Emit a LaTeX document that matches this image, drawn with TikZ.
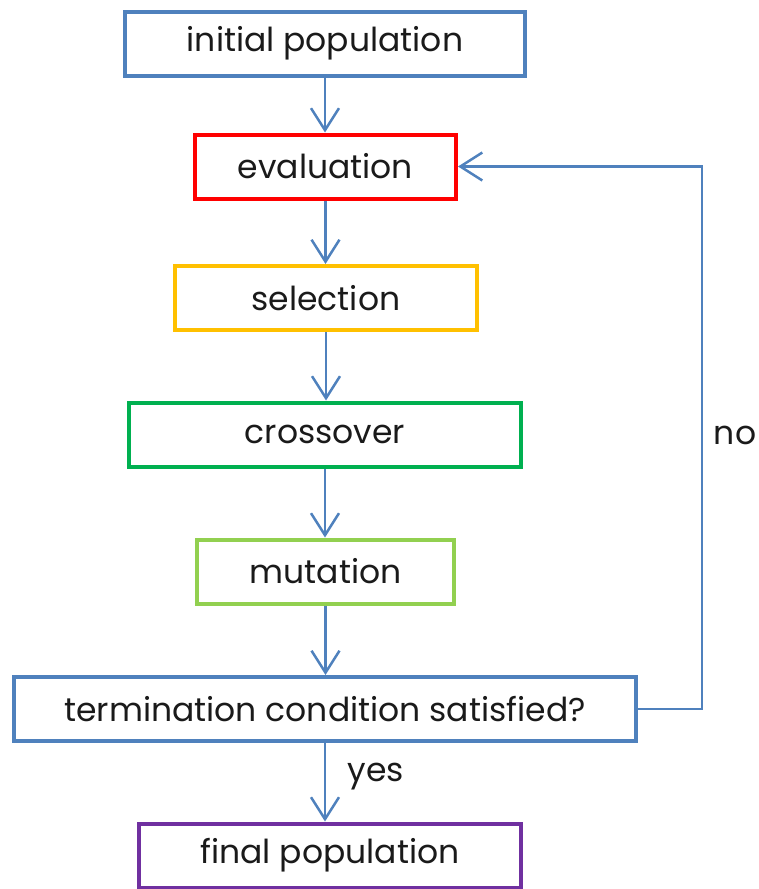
\documentclass[tikz,border=0pt]{standalone}
\usepackage{fontspec}
\setmainfont{Poppins}
\usetikzlibrary{arrows.meta}
\definecolor{oblue}{HTML}{4F81BD}
\definecolor{ored}{HTML}{FF0000}
\definecolor{oyellow}{HTML}{FFC000}
\definecolor{ogreen}{HTML}{00B050}
\definecolor{olgreen}{HTML}{92D050}
\definecolor{opurple}{HTML}{7030A0}
\definecolor{txt}{HTML}{1A1A1A}
\tikzset{
  box/.style={draw=#1, line width=4pt, minimum height=64pt, inner sep=0pt,
    font=\fontsize{33}{37}\selectfont, text=txt},
  conn/.style={draw=oblue, line width=2.5pt,
    -{Straight Barb[length=22pt,width=28pt,line width=2.5pt]}},
  lbl/.style={font=\fontsize{33}{37}\selectfont, text=txt}
}
\begin{document}
\begin{tikzpicture}[x=1pt,y=-1pt]
\useasboundingbox (0,0) rectangle (758,889);
\node[box=oblue, minimum width=400pt] (init) at (325,43.5) {initial population};
\node[box=ored, minimum width=261pt] (eval) at (325.5,166.5) {evaluation};
\node[box=oyellow, minimum width=302pt] (sel) at (326,298) {selection};
\node[box=ogreen, minimum width=392pt] (cross) at (325,434.5) {crossover};
\node[box=olgreen, minimum width=257pt] (mut) at (325.5,571.5) {mutation};
\node[box=oblue, minimum width=622pt] (term) at (325,709) {termination condition satisfied?};
\node[box=opurple, minimum width=382pt] (final) at (330,855.5) {final population};
\draw[conn] (init.south) -- (init.south |- eval.north);
\draw[conn] (eval.south) -- (eval.south |- sel.north);
\draw[conn] (sel.south) -- (sel.south |- cross.north);
\draw[conn] (cross.south) -- (cross.south |- mut.north);
\draw[conn] (mut.south) -- (mut.south |- term.north);
\draw[conn] (term.south) -- (term.south |- final.north);
\coordinate (corner) at (702,709);
\draw[conn] (term.east) -- (corner) |- (eval.east);
\node[lbl] (no) at (735,435) {no};
\node[lbl] (yes) at (376,777) {yes};
\end{tikzpicture}
\end{document}
